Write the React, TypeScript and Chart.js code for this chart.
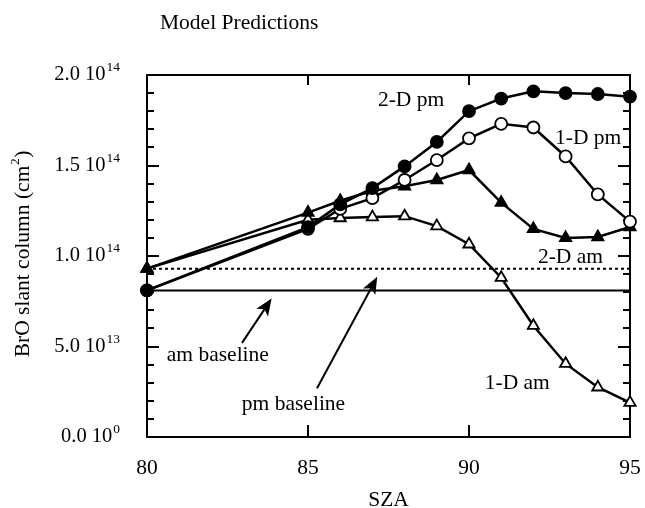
import React, { useEffect, useRef } from "react";
import { Chart, registerables } from "chart.js";

Chart.register(...registerables);

// ---- data ----
const sza = [80, 85, 86, 87, 88, 89, 90, 91, 92, 93, 94, 95];
const pm2D = [8.1e13, 11.6e13, 12.85e13, 13.75e13, 14.95e13, 16.3e13, 18.0e13, 18.7e13, 19.1e13, 19.0e13, 18.95e13, 18.8e13];
const pm1D = [8.1e13, 11.5e13, 12.6e13, 13.2e13, 14.2e13, 15.3e13, 16.5e13, 17.3e13, 17.1e13, 15.5e13, 13.4e13, 11.9e13];
const am2D = [9.3e13, 12.4e13, 13.05e13, 13.6e13, 13.85e13, 14.2e13, 14.75e13, 12.95e13, 11.5e13, 11.0e13, 11.05e13, 11.6e13];
const am1D = [9.3e13, 12.0e13, 12.1e13, 12.15e13, 12.2e13, 11.65e13, 10.65e13, 8.8e13, 6.15e13, 4.05e13, 2.75e13, 1.9e13];
const amBaseline = 8.1e13;
const pmBaseline = 9.3e13;

const xRange = [80, 95];
const xTicks = [80, 85, 90, 95];
const yRange = [0, 2e14];
const yMajorTicks = [0, 5e13, 1e14, 1.5e14, 2e14];
const yTickMantissa = ["0.0", "5.0", "1.0", "1.5", "2.0"];
const yTickExponent = ["0", "13", "14", "14", "14"];
const yMinorStep = 1e13;

const title = "Model Predictions";
const xTitle = "SZA";
const yTitle = "BrO slant column (cm";
const yTitleSup = "2";

// annotation labels in data coordinates
const curveLabels = [
  { text: "2-D pm", x: 88.2, y: 18.6e13 },
  { text: "1-D pm", x: 93.7, y: 16.5e13 },
  { text: "2-D am", x: 93.15, y: 9.9e13 },
  { text: "1-D am", x: 91.5, y: 2.95e13 },
  { text: "am baseline", x: 82.2, y: 4.5e13 },
  { text: "pm baseline", x: 84.55, y: 1.8e13 },
];
const arrows = [
  { x0: 82.95, y0: 5.2e13, x1: 83.87, y1: 7.65e13 },
  { x0: 85.28, y0: 2.69e13, x1: 87.15, y1: 8.85e13 },
];

const SERIF = "'Liberation Serif', 'DejaVu Serif', serif";

const toXY = (ys: number[]) => sza.map((x, i) => ({ x, y: ys[i] }));

export default function App() {
  const ref = useRef<HTMLCanvasElement | null>(null);
  useEffect(() => {
    if (!ref.current) return;
    const decor = {
      id: "decor",
      beforeDatasetsDraw(chart: any) {
        const { ctx, chartArea: a, scales } = chart;
        const xs = scales.x, ys = scales.y;
        ctx.save();
        ctx.strokeStyle = "#000";
        ctx.lineWidth = 2;
        ctx.strokeRect(a.left, a.top, a.right - a.left, a.bottom - a.top);
        for (let v = yRange[0]; v <= yRange[1] + 1; v += yMinorStep) {
          const isMajor = yMajorTicks.some((m) => Math.abs(m - v) < 1e9);
          const len = isMajor ? 12 : 7;
          const py = Math.round(ys.getPixelForValue(v));
          ctx.beginPath();
          ctx.moveTo(a.left, py);
          ctx.lineTo(a.left + len, py);
          ctx.moveTo(a.right, py);
          ctx.lineTo(a.right - len, py);
          ctx.stroke();
        }
        xTicks.forEach((t) => {
          const px = Math.round(xs.getPixelForValue(t));
          ctx.beginPath();
          ctx.moveTo(px, a.bottom);
          ctx.lineTo(px, a.bottom - 12);
          ctx.moveTo(px, a.top);
          ctx.lineTo(px, a.top + 10);
          ctx.stroke();
        });
        ctx.restore();
      },
      afterDraw(chart: any) {
        const { ctx, chartArea: a, scales } = chart;
        const xs = scales.x, ys = scales.y;
        ctx.save();
        ctx.fillStyle = "#000";
        ctx.strokeStyle = "#000";
        ctx.font = `21.5px ${SERIF}`;
        ctx.textAlign = "left";
        ctx.textBaseline = "alphabetic";
        ctx.fillText(title, 160, 29);
        yMajorTicks.forEach((v, i) => {
          const py = ys.getPixelForValue(v);
          const main = yTickMantissa[i] + " 10";
          ctx.font = `20.5px ${SERIF}`;
          const wMain = ctx.measureText(main).width;
          ctx.font = `13.5px ${SERIF}`;
          const wSup = ctx.measureText(yTickExponent[i]).width;
          const x0 = 119 - wMain - wSup;
          ctx.textAlign = "left";
          ctx.textBaseline = "alphabetic";
          ctx.font = `20.5px ${SERIF}`;
          ctx.fillText(main, x0, py + 5);
          ctx.font = `13.5px ${SERIF}`;
          ctx.fillText(yTickExponent[i], x0 + wMain + 1, py - 4);
        });
        ctx.font = `21.5px ${SERIF}`;
        ctx.textAlign = "center";
        ctx.textBaseline = "middle";
        xTicks.forEach((t) => {
          ctx.fillText(String(t), xs.getPixelForValue(t), a.bottom + 31);
        });
        ctx.fillText(xTitle, (a.left + a.right) / 2, a.bottom + 63);
        // y title (rotated)
        ctx.save();
        ctx.translate(22, 254);
        ctx.rotate(-Math.PI / 2);
        ctx.font = `21.5px ${SERIF}`;
        const w1 = ctx.measureText(yTitle).width;
        ctx.font = `13.5px ${SERIF}`;
        const w2 = ctx.measureText(yTitleSup).width;
        ctx.font = `21.5px ${SERIF}`;
        const w3 = ctx.measureText(")").width;
        const total = w1 + w2 + 1 + w3;
        let cx = -total / 2;
        ctx.textAlign = "left";
        ctx.textBaseline = "alphabetic";
        ctx.fillText(yTitle, cx, 7);
        cx += w1;
        ctx.font = `13.5px ${SERIF}`;
        ctx.fillText(yTitleSup, cx + 0.5, -3);
        cx += w2 + 1;
        ctx.font = `21.5px ${SERIF}`;
        ctx.fillText(")", cx, 7);
        ctx.restore();
        ctx.font = `21.5px ${SERIF}`;
        ctx.textAlign = "center";
        ctx.textBaseline = "middle";
        curveLabels.forEach((l) => {
          ctx.fillText(l.text, xs.getPixelForValue(l.x), ys.getPixelForValue(l.y));
        });
        arrows.forEach((ar) => {
          const x0 = xs.getPixelForValue(ar.x0), y0 = ys.getPixelForValue(ar.y0);
          const x1 = xs.getPixelForValue(ar.x1), y1 = ys.getPixelForValue(ar.y1);
          const ang = Math.atan2(y1 - y0, x1 - x0);
          const hl = 17, hw = 7;
          const bx = x1 - hl * Math.cos(ang), by = y1 - hl * Math.sin(ang);
          ctx.lineWidth = 2;
          ctx.beginPath();
          ctx.moveTo(x0, y0);
          ctx.lineTo(bx + 4 * Math.cos(ang), by + 4 * Math.sin(ang));
          ctx.stroke();
          ctx.beginPath();
          ctx.moveTo(x1, y1);
          ctx.lineTo(bx + hw * Math.sin(ang), by - hw * Math.cos(ang));
          ctx.lineTo(bx + 4 * Math.cos(ang), by + 4 * Math.sin(ang));
          ctx.lineTo(bx - hw * Math.sin(ang), by + hw * Math.cos(ang));
          ctx.closePath();
          ctx.fill();
        });
        ctx.restore();
      },
    };

    const common = {
      borderColor: "#000",
      borderWidth: 2.5,
      pointBorderColor: "#000",
      pointBorderWidth: 1.8,
      showLine: true,
      clip: false as any,
      tension: 0,
    };

    const chart = new Chart(ref.current, {
      type: "scatter",
      data: {
        datasets: [
          { ...common, label: "2-D pm", data: toXY(pm2D), pointStyle: "circle", pointRadius: 6, pointBackgroundColor: "#000" },
          { ...common, label: "1-D pm", data: toXY(pm1D), pointStyle: "circle", pointRadius: 6, pointBackgroundColor: "#fff" },
          { ...common, label: "2-D am", data: toXY(am2D), pointStyle: "triangle", pointRadius: 6.5, pointBackgroundColor: "#000" },
          { ...common, label: "1-D am", data: toXY(am1D), pointStyle: "triangle", pointRadius: 6.5, pointBackgroundColor: "#fff" },
          {
            label: "am baseline",
            data: [{ x: xRange[0], y: amBaseline }, { x: xRange[1], y: amBaseline }],
            showLine: true, borderColor: "#000", borderWidth: 2, pointRadius: 0,
          },
          {
            label: "pm baseline",
            data: [{ x: xRange[0], y: pmBaseline }, { x: xRange[1], y: pmBaseline }],
            showLine: true, borderColor: "#000", borderWidth: 2, borderDash: [3, 3], pointRadius: 0,
          },
        ] as any,
      },
      options: {
        animation: false,
        responsive: false,
        maintainAspectRatio: false,
        layout: { padding: { left: 147, right: 15, top: 75, bottom: 71 } },
        plugins: { legend: { display: false }, tooltip: { enabled: false }, title: { display: false } },
        scales: {
          x: { type: "linear", min: xRange[0], max: xRange[1], display: false },
          y: { type: "linear", min: yRange[0], max: yRange[1], display: false },
        },
      },
      plugins: [decor],
    });
    return () => chart.destroy();
  }, []);

  return (
    <div style={{ position: "absolute", left: 0, top: 0, width: 645, height: 508, background: "#fff" }}>
      <canvas ref={ref} width={645} height={508} style={{ display: "block", width: 645, height: 508 }} />
    </div>
  );
}
